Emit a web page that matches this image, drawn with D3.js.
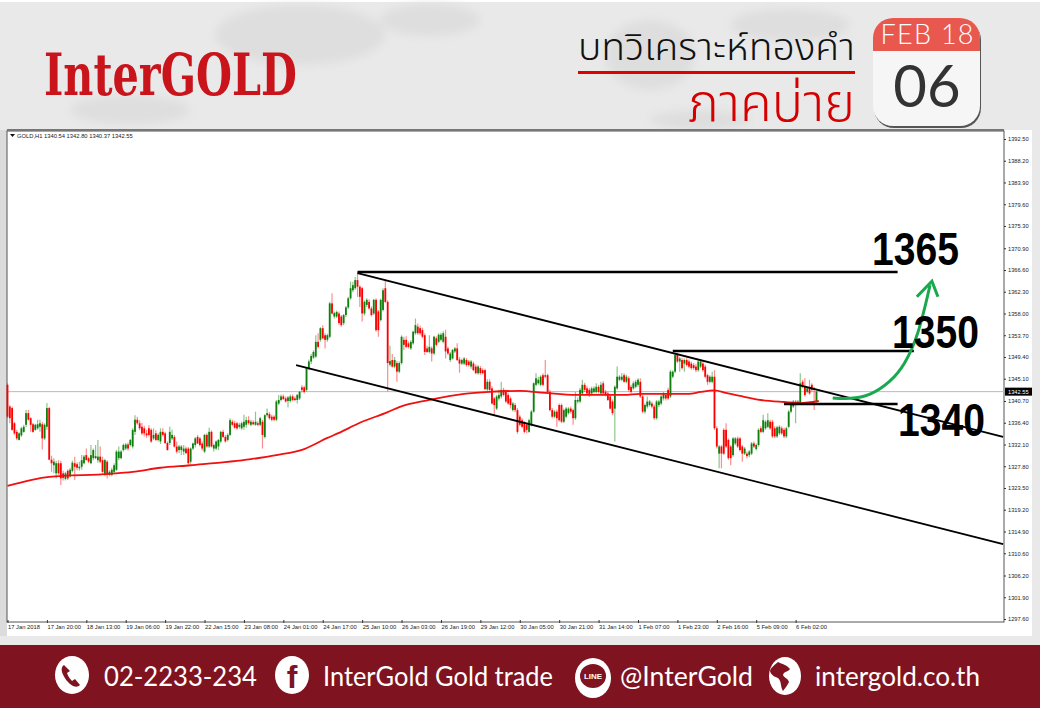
<!DOCTYPE html>
<html>
<head>
<meta charset="utf-8">
<script src="https://cdn.jsdelivr.net/npm/d3@7"></script>
<style>
  html, body { margin: 0; padding: 0; background: #e9e9e9; overflow: hidden; }
  svg { display: block; }
</style>
</head>
<body>
<div id="vis"></div>
<script>
// Hourly gold candles (one value per bar)
const opens = [
1343.9,1339.6,1339.3,1336.3,1334.6,1333.0,1333.9,1334.6,1336.0,1338.3,
1337.3,1336.1,1335.0,1335.3,1335.6,1336.1,1333.3,1335.6,1339.3,1329.1,
1328.0,1326.4,1328.4,1328.4,1326.4,1325.3,1326.9,1325.8,1326.9,1328.4,
1328.2,1327.4,1327.7,1328.4,1330.0,1329.4,1328.4,1329.4,1329.4,1329.0,
1329.7,1329.0,1326.1,1328.7,1326.1,1326.1,1326.7,1327.1,1329.4,1329.4,
1331.0,1331.3,1332.1,1332.0,1331.7,1334.6,1337.0,1336.3,1335.6,1335.3,
1334.3,1335.3,1335.0,1333.3,1334.3,1333.0,1332.7,1334.6,1334.3,1332.4,
1332.4,1333.3,1333.6,1331.7,1331.0,1331.0,1330.7,1331.3,1331.3,1328.7,
1331.3,1332.0,1333.6,1333.3,1332.3,1330.7,1334.0,1331.7,1334.6,1331.3,
1331.3,1331.7,1332.7,1334.6,1333.6,1333.0,1334.0,1336.6,1336.3,1336.3,
1335.6,1335.3,1335.6,1336.0,1336.9,1336.0,1336.5,1336.0,1336.3,1336.0,
1336.6,1333.6,1337.9,1338.1,1337.6,1337.6,1337.0,1340.2,1340.9,1341.6,
1341.2,1340.7,1340.7,1341.6,1341.2,1340.9,1341.2,1343.4,1343.4,1342.9,
1347.2,1348.5,1349.3,1349.5,1352.4,1352.8,1355.1,1353.7,1352.8,1353.4,
1360.0,1357.4,1357.4,1358.0,1357.4,1356.1,1357.7,1359.2,1361.0,1362.6,
1363.0,1364.6,1363.3,1363.0,1358.0,1359.7,1360.3,1359.0,1358.0,1360.7,
1358.4,1356.7,1358.7,1363.0,1360.3,1347.9,1348.8,1347.5,1348.2,1346.5,
1348.2,1352.8,1352.8,1352.1,1351.1,1352.1,1354.1,1355.4,1355.1,1354.7,
1353.7,1351.1,1350.4,1351.1,1350.1,1353.1,1352.4,1352.8,1352.4,1353.4,
1351.1,1348.8,1349.1,1350.5,1351.1,1348.9,1348.1,1348.1,1348.8,1348.5,
1347.5,1348.1,1347.5,1346.2,1347.2,1346.8,1346.8,1343.0,1344.5,1343.2,
1341.2,1339.2,1341.2,1341.6,1342.9,1342.5,1341.9,1341.2,1338.9,1339.9,
1338.9,1337.6,1336.9,1336.3,1336.0,1334.6,1336.0,1338.6,1343.9,1344.2,
1343.9,1345.8,1345.8,1345.8,1342.5,1338.9,1337.6,1338.6,1339.9,1339.9,
1336.6,1337.6,1338.3,1339.2,1338.9,1337.3,1340.6,1340.6,1342.2,1343.9,
1343.2,1342.9,1342.2,1342.5,1342.5,1343.5,1342.2,1344.2,1342.5,1342.2,
1341.6,1340.6,1339.2,1343.2,1344.9,1344.9,1345.8,1344.5,1345.2,1343.5,
1343.2,1343.5,1343.9,1344.5,1341.6,1338.6,1339.6,1339.9,1340.2,1339.6,
1337.3,1339.9,1340.2,1341.2,1341.9,1342.9,1341.6,1345.5,1346.5,1349.8,
1348.5,1348.8,1348.1,1348.8,1348.5,1348.1,1347.8,1347.5,1346.8,1347.5,
1348.1,1347.5,1345.8,1344.5,1344.5,1345.5,1335.3,1330.3,1331.7,1335.0,
1335.0,1333.0,1331.7,1330.0,1332.3,1333.3,1333.3,1331.7,1330.3,1330.3,
1330.0,1330.3,1332.3,1331.2,1332.0,1335.3,1334.6,1335.3,1335.6,1336.6,
1336.6,1335.3,1333.7,1334.3,1335.3,1335.0,1333.7,1335.6,1338.6,1339.6,
1339.9,1340.2,1340.2,1344.5,1343.5,1342.5,1343.5,1343.9,1343.2,1340.54
];
const highs = [
1344.2,1339.9,1339.6,1336.6,1335.0,1334.5,1335.6,1336.0,1338.9,1338.9,
1337.5,1336.4,1336.2,1337.0,1337.0,1336.6,1336.3,1340.3,1339.5,1329.9,
1329.4,1328.9,1329.0,1328.9,1326.9,1326.7,1327.2,1327.5,1328.9,1329.7,
1328.6,1328.7,1330.0,1330.0,1331.3,1329.7,1332.0,1331.3,1332.0,1333.0,
1331.7,1329.7,1329.3,1329.0,1327.0,1327.5,1328.4,1331.0,1331.7,1331.0,
1332.3,1332.4,1332.5,1333.2,1335.3,1337.9,1337.6,1336.9,1336.4,1335.8,
1335.0,1335.9,1335.3,1335.3,1334.9,1334.3,1335.3,1335.3,1334.6,1332.7,
1335.6,1335.0,1334.0,1332.7,1332.0,1332.0,1332.0,1331.7,1331.6,1331.5,
1332.5,1333.6,1334.0,1333.6,1332.7,1334.2,1334.3,1335.4,1334.9,1332.3,
1332.9,1333.2,1334.8,1335.0,1334.0,1334.3,1337.3,1337.0,1336.8,1336.6,
1336.4,1336.6,1338.0,1337.6,1337.7,1337.0,1336.9,1338.6,1336.7,1337.6,
1337.0,1338.1,1339.2,1338.5,1338.0,1337.9,1340.9,1341.9,1342.0,1342.0,
1341.6,1341.7,1342.0,1342.0,1341.6,1342.1,1342.7,1343.8,1343.7,1347.4,
1348.9,1350.0,1350.7,1353.7,1354.1,1355.3,1355.7,1354.1,1354.0,1360.3,
1362.0,1358.4,1358.6,1358.4,1357.7,1357.9,1359.5,1361.3,1364.3,1364.3,
1365.2,1366.1,1363.6,1363.3,1360.6,1361.0,1360.8,1359.4,1360.9,1361.0,
1358.7,1360.9,1363.0,1364.6,1360.6,1351.6,1350.0,1349.4,1348.6,1348.5,
1353.7,1353.4,1353.5,1352.5,1352.7,1354.6,1357.0,1356.0,1355.6,1355.2,
1354.1,1351.6,1353.7,1351.5,1353.6,1353.5,1354.1,1354.2,1354.5,1354.8,
1351.5,1350.4,1351.0,1351.4,1352.1,1349.4,1349.1,1349.4,1349.2,1348.8,
1348.8,1348.5,1347.9,1347.8,1347.6,1347.2,1347.1,1345.0,1345.0,1343.6,
1341.5,1341.9,1342.9,1344.5,1343.3,1342.9,1342.3,1341.6,1340.5,1340.3,
1339.3,1338.0,1337.3,1336.7,1336.4,1337.2,1338.9,1344.4,1346.2,1345.5,
1345.8,1346.2,1348.8,1346.1,1342.9,1339.3,1338.9,1339.0,1340.2,1340.2,
1339.2,1339.5,1339.5,1339.6,1339.2,1342.5,1341.4,1343.3,1344.9,1344.3,
1343.7,1343.3,1343.5,1343.6,1344.2,1343.9,1344.5,1344.6,1342.9,1342.6,
1342.0,1341.0,1343.8,1347.5,1345.8,1346.2,1346.2,1345.9,1345.6,1343.9,
1344.6,1344.9,1345.2,1345.2,1342.0,1340.2,1341.6,1340.9,1340.6,1340.0,
1340.9,1340.9,1341.9,1342.5,1342.3,1343.3,1346.8,1346.8,1350.1,1350.2,
1349.4,1349.2,1349.1,1349.2,1348.9,1348.5,1348.2,1348.0,1348.8,1348.9,
1348.5,1347.9,1346.1,1345.8,1346.5,1346.8,1335.7,1332.0,1332.0,1335.3,
1336.3,1333.3,1332.0,1333.6,1333.6,1333.7,1333.6,1332.0,1331.6,1330.7,
1331.0,1332.6,1332.7,1332.3,1335.3,1335.7,1338.0,1336.9,1338.3,1337.0,
1337.0,1335.7,1335.8,1335.9,1335.7,1335.4,1335.6,1338.9,1340.6,1340.9,
1340.9,1340.9,1346.2,1344.9,1345.2,1343.5,1344.9,1344.2,1343.5,1342.80
];
const lows = [
1337.3,1336.3,1334.8,1334.0,1333.0,1332.9,1333.6,1334.4,1335.5,1336.8,
1334.6,1334.4,1334.8,1335.0,1334.6,1331.1,1333.0,1335.0,1329.0,1326.7,
1326.4,1325.4,1326.1,1324.1,1325.0,1325.0,1325.1,1325.6,1326.6,1325.1,
1327.0,1326.9,1327.1,1328.2,1329.0,1328.4,1328.2,1329.0,1329.2,1328.5,
1328.4,1326.5,1325.8,1325.4,1325.8,1325.8,1326.4,1326.9,1329.0,1329.2,
1330.7,1331.0,1330.9,1331.7,1331.3,1334.0,1336.0,1334.9,1334.0,1333.7,
1333.4,1333.7,1332.4,1333.0,1332.8,1332.7,1332.2,1333.7,1332.2,1330.9,
1332.0,1333.0,1331.5,1330.3,1330.4,1330.0,1330.0,1330.2,1328.1,1328.3,
1331.0,1331.5,1332.2,1331.7,1330.9,1330.4,1331.5,1331.4,1331.5,1330.7,
1331.0,1331.0,1332.4,1333.4,1332.5,1332.7,1333.8,1335.7,1335.2,1335.0,
1335.2,1335.0,1335.0,1335.4,1336.0,1335.7,1335.9,1335.8,1335.7,1335.7,
1331.3,1333.3,1337.6,1337.0,1336.7,1336.7,1336.7,1339.9,1340.6,1340.9,
1340.4,1339.4,1340.4,1340.6,1340.7,1340.2,1340.9,1342.4,1342.2,1342.6,
1346.8,1348.0,1349.0,1349.2,1351.1,1352.4,1352.9,1351.1,1352.4,1353.1,
1357.8,1357.0,1357.1,1355.8,1355.4,1355.7,1357.3,1358.9,1360.7,1362.2,
1362.7,1361.3,1359.3,1356.4,1357.6,1359.3,1358.8,1357.4,1357.7,1354.4,
1353.4,1356.4,1358.4,1360.1,1342.6,1347.5,1347.3,1347.2,1344.5,1346.2,
1347.9,1350.8,1351.2,1351.1,1350.8,1351.8,1353.8,1353.8,1353.7,1353.1,
1349.8,1350.2,1350.1,1348.5,1349.8,1351.5,1352.1,1352.5,1352.1,1349.1,
1349.8,1348.4,1348.9,1350.2,1348.6,1346.3,1347.8,1347.8,1347.5,1347.5,
1347.1,1346.6,1346.0,1345.9,1345.9,1346.0,1343.0,1342.7,1342.5,1340.0,
1337.9,1338.9,1340.8,1341.2,1341.6,1340.3,1340.0,1339.2,1338.6,1338.5,
1334.2,1335.7,1335.3,1334.3,1334.3,1334.4,1335.7,1338.4,1343.6,1343.9,
1343.6,1343.6,1345.2,1342.3,1338.6,1337.3,1337.3,1335.6,1336.6,1336.3,
1336.3,1337.3,1338.0,1338.2,1336.0,1337.0,1340.2,1340.3,1341.9,1342.5,
1341.9,1341.5,1341.8,1342.2,1342.2,1342.2,1341.9,1341.9,1341.6,1340.7,
1339.0,1337.9,1332.7,1342.9,1344.6,1344.6,1344.3,1344.2,1342.6,1342.2,
1342.9,1343.2,1343.5,1341.3,1338.3,1338.2,1339.2,1339.6,1339.2,1337.0,
1337.0,1339.5,1339.9,1340.8,1340.8,1340.9,1341.3,1345.2,1346.2,1348.2,
1346.5,1346.9,1346.5,1347.5,1347.2,1346.9,1346.9,1346.4,1346.5,1347.2,
1346.5,1345.2,1343.9,1344.2,1344.2,1335.0,1331.3,1327.4,1327.4,1330.0,
1331.4,1329.1,1328.0,1329.7,1332.0,1331.4,1330.7,1328.7,1330.0,1329.4,
1329.6,1330.0,1331.4,1330.9,1331.7,1334.3,1334.3,1335.0,1335.3,1335.0,
1333.4,1333.4,1333.4,1334.0,1334.0,1333.4,1333.4,1335.3,1338.3,1339.3,
1336.3,1339.9,1339.9,1343.2,1341.6,1342.2,1341.9,1342.6,1338.9,1340.37
];
const closes = [
1337.6,1337.3,1335.0,1334.3,1333.3,1334.3,1335.3,1335.6,1338.3,1337.0,
1336.0,1334.6,1336.0,1336.1,1336.3,1333.3,1336.0,1339.3,1329.1,1328.4,
1328.7,1328.4,1326.4,1325.4,1325.5,1326.4,1325.4,1327.1,1328.5,1327.7,
1327.5,1327.7,1329.0,1329.7,1329.0,1328.7,1330.0,1331.0,1329.8,1329.7,
1328.7,1326.7,1329.0,1326.1,1326.7,1327.1,1328.0,1330.7,1330.7,1330.7,
1332.0,1332.1,1331.3,1333.0,1335.0,1337.0,1336.3,1335.3,1334.3,1334.3,
1333.9,1334.0,1332.7,1334.0,1333.0,1334.0,1334.6,1334.0,1332.4,1331.0,
1334.6,1334.0,1331.7,1330.7,1331.7,1331.7,1331.3,1330.4,1328.4,1331.3,
1332.3,1333.3,1332.3,1332.0,1331.3,1334.0,1331.7,1334.6,1331.7,1332.0,
1332.7,1333.0,1334.6,1333.6,1332.7,1334.0,1336.9,1336.0,1335.4,1335.3,
1336.0,1336.3,1336.6,1336.9,1336.3,1336.6,1336.1,1336.6,1336.0,1337.3,
1334.0,1337.9,1338.3,1337.3,1337.0,1337.0,1340.6,1340.9,1341.6,1341.1,
1340.6,1341.4,1341.6,1340.9,1340.9,1341.9,1342.5,1342.9,1342.5,1347.2,
1348.5,1349.6,1350.4,1352.4,1351.4,1355.1,1353.1,1352.8,1353.7,1360.0,
1358.0,1358.1,1358.3,1356.1,1355.7,1357.7,1359.2,1361.0,1363.0,1363.6,
1364.6,1363.3,1361.3,1358.0,1360.3,1360.7,1359.0,1357.7,1360.7,1354.7,
1354.7,1360.7,1362.6,1360.3,1348.2,1348.6,1347.5,1348.8,1346.5,1348.2,
1353.4,1351.8,1351.4,1351.4,1352.4,1354.4,1355.7,1354.1,1354.1,1353.4,
1350.4,1350.4,1351.4,1350.1,1353.4,1351.8,1353.8,1353.8,1354.1,1350.5,
1350.1,1350.1,1350.8,1351.1,1348.8,1348.1,1348.8,1349.1,1347.8,1347.8,
1348.5,1346.8,1346.2,1347.5,1346.2,1346.2,1343.0,1344.5,1342.9,1340.2,
1339.9,1341.6,1341.9,1342.9,1341.9,1340.6,1340.2,1339.9,1340.2,1338.9,
1334.6,1336.0,1335.6,1334.6,1335.0,1336.9,1338.6,1344.2,1345.2,1344.9,
1345.5,1343.9,1345.5,1342.5,1338.9,1337.6,1338.6,1337.3,1336.9,1336.6,
1338.9,1339.2,1339.2,1338.6,1337.3,1340.9,1340.9,1342.9,1343.9,1342.9,
1342.2,1341.9,1343.2,1343.2,1343.5,1342.5,1343.9,1342.2,1341.9,1340.9,
1339.2,1338.3,1343.5,1345.5,1345.5,1345.5,1344.5,1345.5,1342.9,1342.5,
1344.2,1344.5,1344.9,1341.6,1338.6,1339.9,1340.6,1340.6,1339.6,1337.3,
1340.6,1340.6,1341.6,1342.2,1341.2,1341.2,1346.5,1346.5,1349.8,1348.5,
1349.1,1347.2,1348.8,1347.8,1347.5,1347.2,1347.2,1346.8,1348.5,1348.5,
1346.8,1345.5,1344.5,1345.5,1345.5,1335.3,1331.7,1331.7,1330.3,1330.3,
1331.7,1329.4,1329.4,1333.3,1333.3,1331.7,1331.0,1330.3,1331.3,1329.8,
1330.7,1332.3,1331.7,1332.0,1335.0,1334.6,1336.9,1336.6,1336.9,1335.3,
1333.7,1333.7,1335.5,1335.6,1334.3,1333.7,1335.3,1338.6,1340.2,1340.6,
1340.6,1340.6,1344.2,1343.5,1341.9,1343.2,1342.2,1342.9,1342.9,1342.55
];

// Moving average, read at a handful of bars
const maBars = [0,18,44,54,66,79,105,116,128,138,143,152,164,169,182,197,208,221,232,245,256,266,273,284,294,299,305,310,316,325,335,342,350];
const maValues = [1323.9,1325.7,1326.3,1326.7,1327.5,1328.0,1329.2,1330.0,1331.2,1333.4,1334.4,1336.4,1338.5,1339.5,1340.9,1342.1,1342.5,1342.7,1342.3,1341.9,1341.9,1341.9,1342.1,1342.1,1342.1,1342.5,1342.8,1342.3,1341.7,1340.9,1340.5,1340.3,1340.7];

// Axis labels
const priceTicks = [1392.5,1388.2,1383.9,1379.6,1375.3,1370.9,1366.6,1362.3,1358.0,1353.7,1349.4,1345.1,1340.7,1336.4,1332.1,1327.8,1323.5,1319.2,1314.9,1310.6,1306.2,1301.9,1297.6];
const timeLabels = ["17 Jan 2018","17 Jan 20:00","18 Jan 13:00","19 Jan 06:00","19 Jan 22:00","22 Jan 15:00","23 Jan 08:00","24 Jan 01:00","24 Jan 17:00","25 Jan 10:00","26 Jan 03:00","26 Jan 19:00","29 Jan 12:00","30 Jan 05:00","30 Jan 21:00","31 Jan 14:00","1 Feb 07:00","1 Feb 23:00","2 Feb 16:00","5 Feb 09:00","6 Feb 02:00"];
const BARS_PER_LABEL = 17;
const LAST_PRICE = 1342.55;

// Hand drawn lines on the chart: [bar0, price0, bar1, price1]
const levelLines = [[151,1366.2,384,1366.2],[287,1350.6,391,1350.6],[335,1340.1,384,1340.1]];
const channelLines = [[151,1366.0,429.5,1333.6],[124.5,1347.8,429.5,1312.4]];
const arrowBars = [356,363.5,372,381,387,393,398];
const arrowPrices = [1341.3,1341.1,1341.7,1344.5,1347.8,1353.7,1363.6];
const arrowHeadBars = [392.3,398.8,401.4];
const arrowHeadPrices = [1361.3,1364.4,1361.3];
const levelLabels = ["1365","1350","1340"];

const FRAME_WIDTH = 1040;
const FRAME_HEIGHT = 708;
const PLOT = {left: 7, right: 1004, top: 131, bottom: 622};
const SANS = "'Liberation Sans', Arial, sans-serif";
const THIN = "Lato, 'Noto Sans', sans-serif";
const THAI = "'Noto Sans Thai', 'Noto Sans', 'DejaVu Sans', sans-serif";

const FRAME = d3.select("#vis")
	.append("svg")
		.attr("width", FRAME_WIDTH)
		.attr("height", FRAME_HEIGHT);

// Scales: bar number to x, price to y
const X_SCALE = d3.scaleLinear().domain([0, 430]).range([7.5, 7.5 + 2.318 * 430]);
const Y_SCALE = d3.scaleLinear().domain([1297.6, 1392.5]).range([619, 139]);

// Soft blur, the reference is a resized screenshot
const defs = FRAME.append("defs");
defs.append("filter").attr("id", "soft").attr("x", "-5%").attr("y", "-5%").attr("width", "110%").attr("height", "110%")
	.append("feGaussianBlur").attr("stdDeviation", 0.3);
defs.append("filter").attr("id", "hazy").append("feGaussianBlur").attr("stdDeviation", 5);

// Page background with a faint map behind it
FRAME.append("rect").attr("width", FRAME_WIDTH).attr("height", FRAME_HEIGHT).attr("fill", "#e9e9e9");
FRAME.append("rect").attr("width", FRAME_WIDTH).attr("height", 2).attr("fill", "#ffffff");
const blobs = [[300,35,85,30],[430,20,50,16],[650,55,45,35],[790,25,60,16],[130,110,60,14],[700,120,50,10]];
FRAME.append("g").attr("filter", "url(#hazy)").selectAll("ellipse").data(blobs).join("ellipse")
	.attr("cx", (d) => d[0]).attr("cy", (d) => d[1]).attr("rx", (d) => d[2]).attr("ry", (d) => d[3])
	.attr("fill", "#dedede");

// Logo
FRAME.append("text")
	.attr("x", 44).attr("y", 95)
	.attr("font-family", "'DejaVu Serif', serif").attr("font-weight", "bold")
	.attr("font-size", 58).attr("fill", "#c8141a")
	.attr("textLength", 253).attr("lengthAdjust", "spacingAndGlyphs")
	.text("InterGOLD");

// Title
FRAME.append("text")
	.attr("x", 855).attr("y", 60).attr("text-anchor", "end")
	.attr("font-family", THAI).attr("font-weight", 300).attr("font-size", 38).attr("fill", "#111")
	.attr("textLength", 277).attr("lengthAdjust", "spacingAndGlyphs")
	.text("บทวิเคราะห์ทองคำ");
FRAME.append("rect").attr("x", 578).attr("y", 71).attr("width", 277).attr("height", 3).attr("fill", "#e00000");
FRAME.append("text")
	.attr("x", 855).attr("y", 121).attr("text-anchor", "end")
	.attr("font-family", THAI).attr("font-weight", 300).attr("font-size", 52).attr("fill", "#d40000")
	.attr("textLength", 167).attr("lengthAdjust", "spacingAndGlyphs")
	.text("ภาคบ่าย");

// Calendar badge
defs.append("clipPath").attr("id", "calTop").append("rect")
	.attr("x", 873).attr("y", 18).attr("width", 107).attr("height", 33);
FRAME.append("rect").attr("x", 874).attr("y", 20).attr("width", 107).attr("height", 108).attr("rx", 20)
	.attr("fill", "#555");
FRAME.append("rect").attr("x", 873).attr("y", 18).attr("width", 107).attr("height", 108).attr("rx", 20)
	.attr("fill", "#f6f6f6");
FRAME.append("rect").attr("x", 873).attr("y", 18).attr("width", 107).attr("height", 108).attr("rx", 20)
	.attr("fill", "#e8584f").attr("clip-path", "url(#calTop)");
FRAME.append("text").attr("x", 927).attr("y", 44).attr("text-anchor", "middle")
	.attr("font-family", THIN).attr("font-weight", 300).attr("font-size", 27).attr("fill", "#fff")
	.attr("textLength", 93).text("FEB 18");
FRAME.append("text").attr("x", 927).attr("y", 107).attr("text-anchor", "middle")
	.attr("font-family", THIN).attr("font-weight", 400).attr("font-size", 58).attr("fill", "#333")
	.text("06");

// Chart panel
FRAME.append("rect").attr("x", 0).attr("y", 130).attr("width", PLOT.left).attr("height", 506).attr("fill", "#dcdcdc");
FRAME.append("rect").attr("x", PLOT.left).attr("y", 130).attr("width", 1032 - PLOT.left).attr("height", 506).attr("fill", "#ffffff");
FRAME.append("rect").attr("x", PLOT.left).attr("y", PLOT.top).attr("width", PLOT.right - PLOT.left).attr("height", PLOT.bottom - PLOT.top)
	.attr("fill", "none").attr("stroke", "#555").attr("stroke-width", 1);
FRAME.append("rect").attr("x", PLOT.left).attr("y", 129).attr("width", PLOT.right - PLOT.left).attr("height", 2).attr("fill", "#777");

// Price axis
const yAxis = FRAME.append("g")
	.attr("transform", "translate(" + PLOT.right + ",0)")
	.call(d3.axisRight(Y_SCALE).tickValues(priceTicks).tickFormat(d3.format(".2f")).tickSize(2).tickPadding(2));
yAxis.select(".domain").remove();
yAxis.selectAll("text").attr("font-family", SANS).attr("font-size", 5.7).attr("fill", "#222");
yAxis.selectAll("line").attr("stroke", "#333");

// Time axis, one label every 17 bars
const timeBars = timeLabels.map((d, i) => i * BARS_PER_LABEL);
const xAxis = FRAME.append("g")
	.attr("transform", "translate(0," + PLOT.bottom + ")")
	.call(d3.axisBottom(X_SCALE).tickValues(timeBars).tickFormat((d, i) => timeLabels[i]).tickSize(2).tickPadding(1));
xAxis.select(".domain").remove();
xAxis.selectAll("text").attr("text-anchor", "start").attr("dx", 0).attr("font-family", SANS).attr("font-size", 5.8).attr("fill", "#222");
xAxis.selectAll("line").attr("y1", -2).attr("y2", 1).attr("stroke", "#333");

// Symbol caption
FRAME.append("path").attr("d", "M10 134h5l-2.5 3z").attr("fill", "#111");
FRAME.append("text").attr("x", 17).attr("y", 138)
	.attr("font-family", SANS).attr("font-size", 5.8).attr("fill", "#222")
	.text("GOLD,H1  1340.54 1342.80 1340.37 1342.55");

// Last price line
FRAME.append("line")
	.attr("x1", PLOT.left).attr("x2", PLOT.right)
	.attr("y1", Y_SCALE(LAST_PRICE)).attr("y2", Y_SCALE(LAST_PRICE))
	.attr("stroke", "#b4bac6").attr("stroke-width", 1);

// Candles
const UP = "#0b7f0b";
const DOWN = "#fb0000";
const candle = FRAME.append("g").attr("filter", "url(#soft)").selectAll("g").data(closes).join("g");
candle.append("line")
	.attr("x1", (d, i) => X_SCALE(i)).attr("x2", (d, i) => X_SCALE(i))
	.attr("y1", (d, i) => Y_SCALE(highs[i])).attr("y2", (d, i) => Y_SCALE(lows[i]))
	.attr("stroke", (d, i) => d >= opens[i] ? UP : DOWN)
	.attr("stroke-width", 1.2).attr("stroke-opacity", 0.45);
candle.append("rect")
	.attr("x", (d, i) => X_SCALE(i) - 0.9).attr("width", 1.8)
	.attr("y", (d, i) => Y_SCALE(Math.max(d, opens[i])))
	.attr("height", (d, i) => Math.max(1, Math.abs(Y_SCALE(d) - Y_SCALE(opens[i]))))
	.attr("fill", (d, i) => d >= opens[i] ? UP : DOWN);

// Moving average
const maLine = d3.line().x((d) => X_SCALE(d)).y((d, i) => Y_SCALE(maValues[i])).curve(d3.curveMonotoneX);
FRAME.append("path").attr("d", maLine(maBars))
	.attr("fill", "none").attr("stroke", "#f01010").attr("stroke-width", 1.8);

// Drawn levels and channel
FRAME.append("g").selectAll("line").data(levelLines.concat(channelLines)).join("line")
	.attr("x1", (d) => X_SCALE(d[0])).attr("y1", (d) => Y_SCALE(d[1]))
	.attr("x2", (d) => X_SCALE(d[2])).attr("y2", (d) => Y_SCALE(d[3]))
	.attr("stroke", "#000").attr("stroke-width", (d, i) => i < levelLines.length ? 2.4 : 1.8);

// Green arrow
const arrowLine = d3.line().x((d) => X_SCALE(d)).y((d, i) => Y_SCALE(arrowPrices[i])).curve(d3.curveBasis);
const headLine = d3.line().x((d) => X_SCALE(d)).y((d, i) => Y_SCALE(arrowHeadPrices[i]));
FRAME.append("path").attr("d", arrowLine(arrowBars))
	.attr("fill", "none").attr("stroke", "#18a84e").attr("stroke-width", 3);
FRAME.append("path").attr("d", headLine(arrowHeadBars))
	.attr("fill", "none").attr("stroke", "#18a84e").attr("stroke-width", 3);

// Level labels
const labelPos = [[872,265],[892,348],[898,436]];
FRAME.append("g").selectAll("text").data(levelLabels).join("text")
	.attr("x", (d, i) => labelPos[i][0]).attr("y", (d, i) => labelPos[i][1])
	.attr("font-family", SANS).attr("font-weight", "bold").attr("font-size", 46).attr("fill", "#000")
	.attr("textLength", 87).attr("lengthAdjust", "spacingAndGlyphs")
	.text((d) => d);

// Price tag for the last price
FRAME.append("rect").attr("x", PLOT.right + 1).attr("y", Y_SCALE(LAST_PRICE) - 4).attr("width", 27).attr("height", 8).attr("fill", "#000");
FRAME.append("text").attr("x", PLOT.right + 4).attr("y", Y_SCALE(LAST_PRICE) + 2)
	.attr("font-family", SANS).attr("font-size", 5.7).attr("fill", "#fff")
	.text(d3.format(".2f")(LAST_PRICE));

// Footer band
FRAME.append("rect").attr("y", 645).attr("width", FRAME_WIDTH).attr("height", 63).attr("fill", "#7f1420");
const RED = "#7f1420";
const footerText = [
	{x: 104, w: 153, t: "02-2233-234"},
	{x: 323, w: 230, t: "InterGold Gold trade"},
	{x: 620, w: 133, t: "@InterGold"},
	{x: 815, w: 165, t: "intergold.co.th"}
];
FRAME.append("g").selectAll("text").data(footerText).join("text")
	.attr("x", (d) => d.x).attr("y", 686)
	.attr("font-family", THIN).attr("font-weight", 400).attr("font-size", 27).attr("fill", "#fff")
	.attr("textLength", (d) => d.w).attr("lengthAdjust", "spacingAndGlyphs")
	.text((d) => d.t);

// Footer icons
const icons = [[72,675,17,19],[292,675,17,19],[593,678,18,20],[785,676,16,19]];
FRAME.append("g").selectAll("ellipse").data(icons).join("ellipse")
	.attr("cx", (d) => d[0]).attr("cy", (d) => d[1]).attr("rx", (d) => d[2]).attr("ry", (d) => d[3])
	.attr("fill", "#fff");
FRAME.append("path")
	.attr("d", "M64 665c-2 1-3 4-2 7 2 6 6 11 11 14 3 1 5 1 7-1l-5-6-3 2c-2-2-4-5-5-8l3-2z")
	.attr("fill", RED);
FRAME.append("text").attr("x", 292).attr("y", 688).attr("text-anchor", "middle")
	.attr("font-family", SANS).attr("font-weight", "bold").attr("font-size", 32).attr("fill", RED).text("f");
FRAME.append("ellipse").attr("cx", 593).attr("cy", 676).attr("rx", 13).attr("ry", 12).attr("fill", RED);
FRAME.append("text").attr("x", 593).attr("y", 679).attr("text-anchor", "middle")
	.attr("font-family", SANS).attr("font-weight", "bold").attr("font-size", 8).attr("fill", "#fff").text("LINE");
FRAME.append("path")
	.attr("d", "M778 662c4 2 9 3 12 7-2 3-6 2-7 6 1 3 5 3 6 7-2 4-4 6-6 9-3-5-1-9-5-13-3-1-7-3-8-7 1-4 5-6 8-9z")
	.attr("fill", RED);
</script>
</body>
</html>
